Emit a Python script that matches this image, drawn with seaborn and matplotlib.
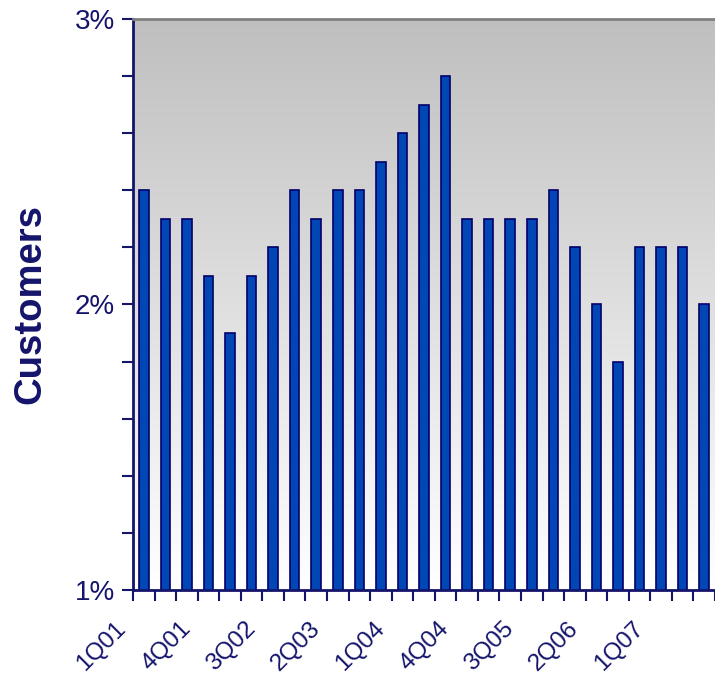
import numpy as np
import matplotlib
matplotlib.use("Agg")
import matplotlib.pyplot as plt
import matplotlib.transforms as mtransforms
import seaborn as sns
from matplotlib.ticker import FixedLocator, FuncFormatter

quarters = ["1Q01", "2Q01", "3Q01", "4Q01", "1Q02", "2Q02", "3Q02", "4Q02",
            "1Q03", "2Q03", "3Q03", "4Q03", "1Q04", "2Q04", "3Q04", "4Q04",
            "1Q05", "2Q05", "3Q05", "4Q05", "1Q06", "2Q06", "3Q06", "4Q06",
            "1Q07", "2Q07", "3Q07"]
customers = [2.4, 2.3, 2.3, 2.1, 1.9, 2.1, 2.2, 2.4, 2.3, 2.4, 2.4, 2.5, 2.6, 2.7,
             2.8, 2.3, 2.3, 2.3, 2.3, 2.4, 2.2, 2.0, 1.8, 2.2, 2.2, 2.2, 2.0]
labelled = ["1Q01", "4Q01", "3Q02", "2Q03", "1Q04", "4Q04", "3Q05", "2Q06", "1Q07"]

navy = "#14146b"
bar_fill = "#0046b4"
bar_edge = "#00006b"

sns.set_style("ticks")
plt.rcParams["font.family"] = ["Liberation Sans", "DejaVu Sans"]

fig = plt.figure(figsize=(7.15, 6.75), dpi=100)
ax = fig.add_axes([0.186, 0.126, 0.814, 0.846])

# grey-to-white gradient behind the bars
grad = np.linspace(1.0, 0.0, 256).reshape(-1, 1)
ax.imshow(grad, extent=[0, 1, 0, 1], transform=ax.transAxes, aspect="auto",
          cmap=matplotlib.colors.LinearSegmentedColormap.from_list(
              "bg", ["#ffffff", "#bfbfbf"]), zorder=0)

sns.barplot(x=quarters, y=customers, color=bar_fill, width=0.44,
            edgecolor=bar_edge, linewidth=1.2, saturation=1, ax=ax, zorder=2)

ax.set_xlim(-0.5, len(quarters) - 0.5)
ax.set_ylim(1, 3)

ax.yaxis.set_major_locator(FixedLocator([1, 2, 3]))
ax.yaxis.set_minor_locator(FixedLocator(np.arange(1, 3.01, 0.2)))
ax.yaxis.set_major_formatter(FuncFormatter(lambda v, p: f"{v:.0f}%"))
ax.tick_params(axis="y", which="both", direction="out", length=8, width=1.5,
               color=navy, labelcolor=navy, labelsize=20, pad=5)

idx = [quarters.index(q) for q in labelled]
ax.set_xticks(idx)
ax.set_xticklabels(labelled, rotation=45, ha="right", va="top",
                   rotation_mode="anchor")
ax.xaxis.set_minor_locator(FixedLocator(np.arange(-0.5, len(quarters), 1)))
ax.tick_params(axis="x", which="major", length=0, labelcolor=navy,
               labelsize=17.5, pad=20)
ax.tick_params(axis="x", which="minor", direction="out", length=8, width=1.5,
               color=navy)
shift = mtransforms.ScaledTranslation(-0.29, 0, fig.dpi_scale_trans)
for lab in ax.get_xticklabels():
    lab.set_transform(lab.get_transform() + shift)

ax.set_xlabel("")
ax.set_ylabel("Customers", fontsize=27.5, fontweight="bold", color=navy, labelpad=19)

for side in ["left", "bottom"]:
    ax.spines[side].set_color(navy)
    ax.spines[side].set_linewidth(2)
ax.spines["top"].set_color("#808080")
ax.spines["top"].set_linewidth(2)
ax.spines["right"].set_visible(False)

fig.savefig("out.png", dpi=100)
